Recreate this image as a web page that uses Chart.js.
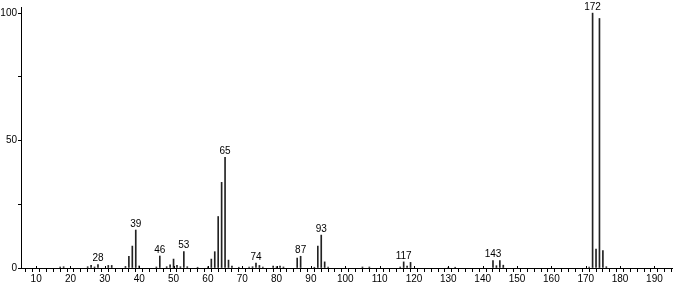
<!DOCTYPE html>
<html>
<head>
<meta charset="utf-8">
<script src="https://cdn.jsdelivr.net/npm/chart.js@4.4.1/dist/chart.umd.min.js"></script>
<style>
  body { margin: 0; background: #fff; }
  canvas { display: block; }
</style>
</head>
<body>
<canvas id="spectrum" width="673" height="285"></canvas>
<script>
// m/z values and relative intensities
const massValues = [17, 18, 25, 26, 27, 28, 31, 32, 36, 37, 38, 39, 40, 45, 46, 48, 49, 50, 51, 52,
  53, 54, 57, 60, 61, 62, 63, 64, 65, 66, 67, 69, 72, 73, 74, 75, 76, 79, 80, 81, 82, 86, 87,
  91, 92, 93, 94, 95, 105, 107, 116, 117, 118, 119, 130, 132, 143, 144, 145, 146,
  171, 172, 173, 174, 175, 176];
const intensities = [0.4, 0.5, 0.5, 1.0, 0.4, 1.3, 1.0, 1.0, 0.6, 4.6, 8.6, 14.9, 0.8, 0.4, 4.7, 0.5, 1.2, 3.5, 1.0, 0.5,
  6.4, 0.5, 0.3, 0.5, 3.5, 6.4, 20.2, 33.6, 43.4, 3.1, 0.8, 0.3, 0.4, 0.5, 1.9, 1.0, 0.4, 0.8, 0.5, 0.8, 0.4, 3.9, 4.6,
  0.3, 8.6, 12.9, 2.4, 0.4, 0.4, 0.4, 0.4, 2.4, 0.8, 2.2, 0.3, 0.3, 2.9, 0.9, 2.9, 1.1,
  0.4, 100, 7.4, 97.9, 6.8, 0.5];
// peaks that get an m/z label
const labeledPeaks = [28, 39, 46, 53, 65, 74, 87, 93, 117, 143, 172];

const FONT = "'Liberation Sans', Arial, sans-serif";

// labels above peaks + the small upward part of the major x ticks
const peakLabels = {
  id: 'peakLabels',
  afterDraw(chart) {
    const ctx = chart.ctx;
    const xs = chart.scales.x;
    const ys = chart.scales.y;
    ctx.save();
    ctx.strokeStyle = '#000';
    ctx.lineWidth = 1;
    for (let v = 10; v <= 190; v += 10) {
      const px = Math.round(xs.getPixelForValue(v)) + 0.5;
      ctx.beginPath();
      ctx.moveTo(px, ys.bottom);
      ctx.lineTo(px, ys.bottom - 2);
      ctx.stroke();
    }
    ctx.fillStyle = '#000';
    ctx.font = '10px ' + FONT;
    ctx.textAlign = 'center';
    ctx.textBaseline = 'bottom';
    labeledPeaks.forEach(mz => {
      const i = massValues.indexOf(mz);
      const px = xs.getPixelForValue(mz);
      let py = ys.getPixelForValue(intensities[i]) - 1;
      if (py < 8) py = 8;
      ctx.fillText(String(mz), px, py);
    });
    ctx.restore();
  }
};

new Chart(document.getElementById('spectrum'), {
  type: 'bar',
  data: {
    datasets: [{
      data: massValues.map((m, i) => ({ x: m, y: intensities[i] })),
      backgroundColor: '#222',
      borderWidth: 0,
      barThickness: 1,
      grouped: false
    }]
  },
  options: {
    responsive: false,
    animation: false,
    layout: { padding: { top: 7, right: 0, left: 0, bottom: 0 } },
    plugins: { legend: { display: false }, tooltip: { enabled: false } },
    scales: {
      x: {
        type: 'linear',
        min: 6.6,
        max: 194.4,
        afterFit: s => { s.height = 17; },
        border: { color: '#000', width: 1 },
        grid: { drawOnChartArea: false, drawTicks: true, tickLength: 4, color: '#000' },
        ticks: {
          stepSize: 2,
          includeBounds: false,
          autoSkip: false,
          maxRotation: 0,
          padding: 1,
          color: '#000',
          font: { family: FONT, size: 10 },
          callback: v => (v % 10 === 0 ? String(v) : '')
        }
      },
      y: {
        min: 0,
        max: 102.4,
        afterFit: s => { s.width = 21; },
        border: { color: '#000', width: 1 },
        grid: { drawOnChartArea: false, drawTicks: true, tickLength: 3, color: '#000' },
        ticks: {
          stepSize: 25,
          includeBounds: false,
          padding: 1,
          color: '#000',
          font: { family: FONT, size: 10 },
          callback: v => (v % 50 === 0 ? String(v) : '')
        }
      }
    }
  },
  plugins: [peakLabels]
});
</script>
</body>
</html>
